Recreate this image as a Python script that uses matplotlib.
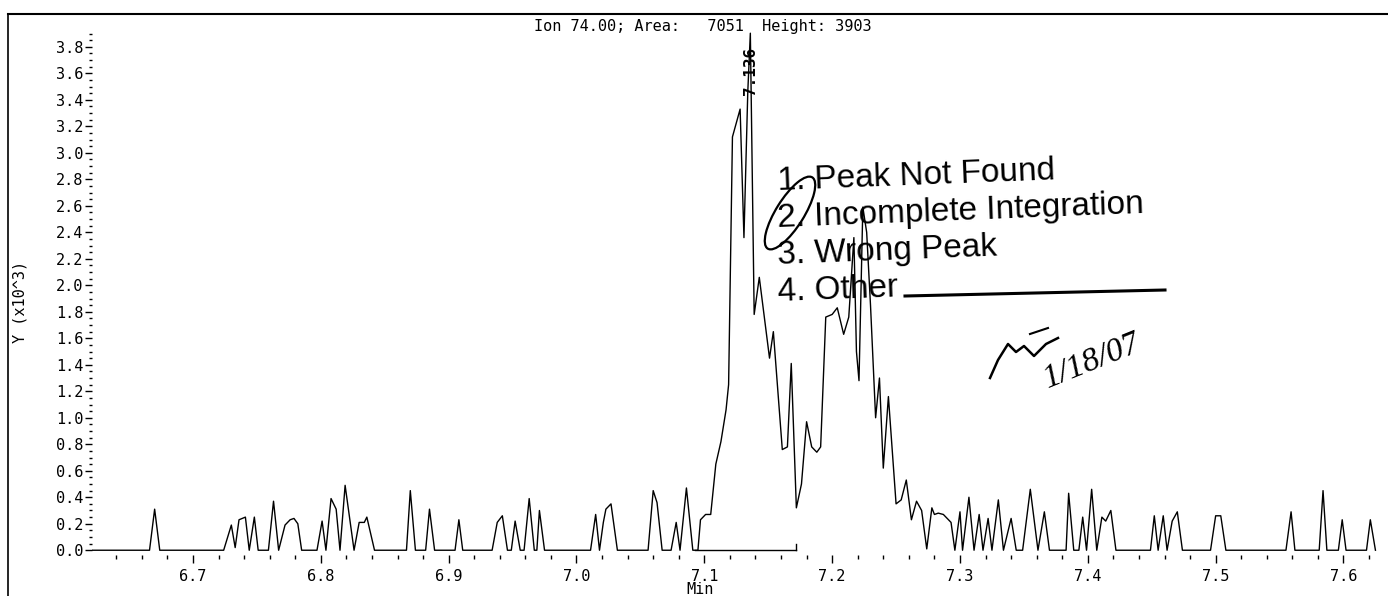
import numpy as np
import matplotlib
matplotlib.use("Agg")
import matplotlib.pyplot as plt
from matplotlib.lines import Line2D
from matplotlib.patches import Ellipse
from matplotlib.ticker import MultipleLocator, FixedLocator

# ion 74 trace, minutes vs counts (x10^3)
rt = [6.621, 6.666, 6.670, 6.674, 6.724, 6.730, 6.733, 6.736, 6.741, 6.744,
      6.748, 6.751, 6.759, 6.763, 6.767, 6.772, 6.776, 6.779, 6.782, 6.785,
      6.797, 6.801, 6.804, 6.808, 6.812, 6.815, 6.819, 6.826, 6.830, 6.834,
      6.836, 6.842, 6.867, 6.870, 6.874, 6.882, 6.885, 6.889, 6.905, 6.908,
      6.911, 6.934, 6.938, 6.942, 6.946, 6.949, 6.952, 6.956, 6.959, 6.963,
      6.967, 6.969, 6.971, 6.975, 7.011, 7.015, 7.018, 7.021, 7.023, 7.027,
      7.032, 7.056, 7.060, 7.063, 7.067, 7.074, 7.078, 7.081, 7.086, 7.091,
      7.095, 7.097, 7.101, 7.105, 7.109, 7.113, 7.117, 7.119, 7.122, 7.128,
      7.131, 7.134, 7.136, 7.139, 7.143, 7.151, 7.154, 7.161, 7.165, 7.168,
      7.172, 7.176, 7.180, 7.184, 7.188, 7.191, 7.195, 7.200, 7.204, 7.209,
      7.213, 7.217, 7.219, 7.221, 7.224, 7.227, 7.230, 7.234, 7.237, 7.240,
      7.244, 7.250, 7.254, 7.258, 7.262, 7.266, 7.270, 7.274, 7.278, 7.280,
      7.283, 7.287, 7.291, 7.293, 7.296, 7.300, 7.302, 7.307, 7.311, 7.315,
      7.318, 7.322, 7.325, 7.330, 7.334, 7.340, 7.344, 7.349, 7.355, 7.361,
      7.366, 7.370, 7.383, 7.385, 7.389, 7.393, 7.396, 7.399, 7.403, 7.407,
      7.411, 7.414, 7.418, 7.422, 7.449, 7.452, 7.455, 7.459, 7.462, 7.466,
      7.470, 7.474, 7.496, 7.500, 7.504, 7.508, 7.555, 7.559, 7.562, 7.581,
      7.584, 7.587, 7.596, 7.599, 7.602, 7.618, 7.621, 7.625]
counts = [0.00, 0.00, 0.31, 0.00, 0.00, 0.19, 0.02, 0.23, 0.25, 0.00,
          0.25, 0.00, 0.00, 0.37, 0.00, 0.19, 0.23, 0.24, 0.20, 0.00,
          0.00, 0.22, 0.00, 0.39, 0.31, 0.00, 0.49, 0.00, 0.21, 0.21,
          0.25, 0.00, 0.00, 0.45, 0.00, 0.00, 0.31, 0.00, 0.00, 0.23,
          0.00, 0.00, 0.21, 0.26, 0.00, 0.00, 0.22, 0.00, 0.00, 0.39,
          0.00, 0.00, 0.30, 0.00, 0.00, 0.27, 0.00, 0.21, 0.31, 0.35,
          0.00, 0.00, 0.45, 0.36, 0.00, 0.00, 0.21, 0.00, 0.47, 0.00,
          0.00, 0.23, 0.27, 0.27, 0.65, 0.82, 1.06, 1.25, 3.12, 3.33,
          2.36, 3.46, 3.903, 1.78, 2.06, 1.45, 1.65, 0.76, 0.78, 1.41,
          0.32, 0.50, 0.97, 0.78, 0.74, 0.78, 1.76, 1.78, 1.83, 1.63,
          1.76, 2.36, 1.50, 1.28, 2.59, 2.40, 1.85, 1.00, 1.30, 0.62,
          1.16, 0.35, 0.38, 0.53, 0.23, 0.37, 0.30, 0.01, 0.32, 0.27,
          0.28, 0.27, 0.23, 0.21, 0.00, 0.29, 0.00, 0.40, 0.00, 0.27,
          0.00, 0.24, 0.00, 0.38, 0.00, 0.24, 0.00, 0.00, 0.46, 0.00,
          0.29, 0.00, 0.00, 0.43, 0.00, 0.00, 0.25, 0.00, 0.46, 0.00,
          0.25, 0.22, 0.30, 0.00, 0.00, 0.26, 0.00, 0.26, 0.00, 0.22,
          0.29, 0.00, 0.00, 0.26, 0.26, 0.00, 0.00, 0.29, 0.00, 0.00,
          0.45, 0.00, 0.00, 0.23, 0.00, 0.00, 0.23, 0.00]

# integration baseline and apex label
base_rt = [7.093, 7.172]
apex_rt = 7.136
ion, area, height = 74.00, 7051, 3903

mono = "DejaVu Sans Mono"
W, H = 1388, 596
fig = plt.figure(figsize=(W / 100, H / 100), dpi=100)

ax = fig.add_axes([92 / W, 1 - 555 / H, 1286 / W, (555 - 23) / H])
ax.plot(rt, counts, color="black", lw=1.0)
ax.plot(base_rt, [0, 0], color="black", lw=1.0)
ax.plot([base_rt[1], base_rt[1]], [0, 0.05], color="black", lw=1.0)
ax.text(apex_rt, 3.44, f"{apex_rt:.3f}", rotation=90, ha="center", va="bottom",
        family=mono, fontsize=11.5, fontweight="bold")

ax.set_xlim(6.621, 7.627)
ax.set_ylim(-0.036, 3.98)
for s in ax.spines.values():
    s.set_visible(False)

ax.xaxis.set_major_locator(MultipleLocator(0.1))
ax.xaxis.set_minor_locator(MultipleLocator(0.02))
ax.xaxis.set_major_formatter(matplotlib.ticker.FormatStrFormatter("%.1f"))
ax.yaxis.set_major_locator(FixedLocator(np.arange(0, 3.81, 0.2)))
ax.yaxis.set_minor_locator(FixedLocator(np.arange(0, 3.91, 0.05)))
ax.yaxis.set_major_formatter(matplotlib.ticker.FormatStrFormatter("%.1f"))
ax.tick_params(axis="x", which="major", length=6, width=1, pad=4)
ax.tick_params(axis="x", which="minor", length=3, width=1)
ax.tick_params(axis="y", which="major", length=5, width=1, pad=1)
ax.tick_params(axis="y", which="minor", length=2, width=1)
for lab in ax.get_xticklabels() + ax.get_yticklabels():
    lab.set_family(mono)
    lab.set_fontsize(11)

fig.text(703 / W, 1 - 26 / H, f"Ion {ion:.2f}; Area:   {area}  Height: {height}",
         ha="center", va="center", family=mono, fontsize=11)
fig.text(700 / W, 1 - 590 / H, "Min", ha="center", va="center", family=mono, fontsize=11)
fig.text(20 / W, 1 - 302 / H, "Y (x10^3)", rotation=90, ha="center", va="center",
         family=mono, fontsize=11)

# page frame
fig.add_artist(Line2D([8 / W, 8 / W], [0, 1 - 14 / H], color="black", lw=1.2))
fig.add_artist(Line2D([8 / W, 1], [1 - 14 / H, 1 - 14 / H], color="black", lw=1.5))

# review stamp and handwriting, in page pixels
ov = fig.add_axes([0, 0, 1, 1], facecolor="none")
ov.set_xlim(0, W)
ov.set_ylim(H, 0)
ov.axis("off")
reasons = ["1. Peak Not Found", "2. Incomplete Integration", "3. Wrong Peak", "4. Other"]
for i, r in enumerate(reasons):
    ov.text(778, 190 + i * 37, r, family="Liberation Sans", fontsize=24,
            rotation=2.2, rotation_mode="anchor", ha="left", va="baseline")
ov.plot([905, 1165], [296, 290], color="black", lw=2.2)
ov.add_patch(Ellipse((790, 213), 84, 28, angle=-58, fill=False, ec="black", lw=1.6))
ov.plot([990, 998, 1008, 1016, 1024, 1034, 1046, 1058],
        [378, 360, 344, 352, 346, 356, 344, 338], color="black", lw=1.8)
ov.plot([1030, 1048], [334, 328], color="black", lw=1.5)
ov.text(1048, 388, "1/18/07", family="Liberation Serif", style="italic",
        fontsize=24, rotation=22, rotation_mode="anchor", ha="left", va="baseline")

fig.savefig("out.png", dpi=100)
